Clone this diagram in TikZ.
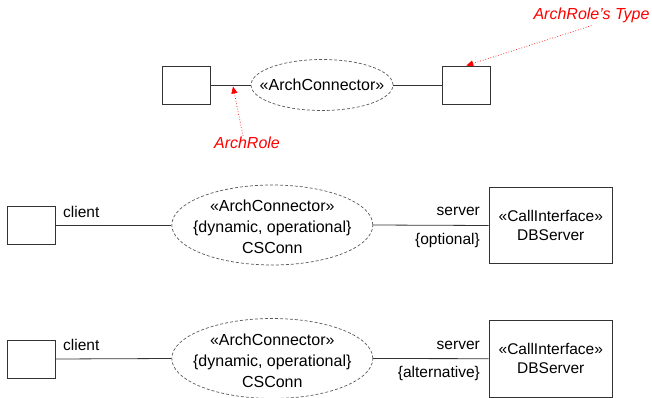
\documentclass[tikz,border=0pt]{standalone}
\usepackage{fontspec}
\setmainfont{Liberation Sans}
\usetikzlibrary{shapes.geometric,arrows.meta}
\tikzset{
  boxst/.style={draw=black!80,line width=0.9pt,inner sep=0pt,minimum width=48pt,minimum height=38pt},
  bigbox/.style={draw=black!80,line width=0.9pt,inner sep=0pt,minimum width=123.5pt,minimum height=76pt,align=center,font=\fontsize{15.5}{18.5}\selectfont},
  conn/.style={draw=black!65,dashed,dash pattern=on 3pt off 2pt,line width=0.7pt,ellipse,inner sep=0pt},
  conntext/.style={align=center,inner sep=0pt,font=\fontsize{16}{21}\selectfont},
  wire/.style={draw=black!80,line width=0.8pt},
  lbl/.style={font=\fontsize{15.5}{18}\selectfont,inner sep=0pt},
  redlbl/.style={font=\fontsize{16}{18}\selectfont\itshape,text=red,inner sep=0pt},
  redarrow/.style={draw=red,dotted,line width=0.7pt,-{Triangle[length=7pt,width=6pt]}}
}
\begin{document}
\begin{tikzpicture}[x=1pt,y=-1pt]
\useasboundingbox (0,0) rectangle (652,398);
% top row
\node[boxst] (tl) at (186,85) {};
\node[boxst] (tr) at (466.3,85) {};
\node[conn,minimum width=142pt,minimum height=51pt] (tc) at (322,85) {};
\node[conntext] (tct) at (tc.center) {«ArchConnector»};
\draw[wire] (tl.east) -- (tc.west);
\draw[wire] (tc.east) -- (tr.west);
\node[redlbl] (typelbl) at (591.5,15) {ArchRole’s Type};
\node[redlbl] (rolelbl) at (247,143) {ArchRole};
\coordinate (roleend) at (233,86.5);
\draw[redarrow] (typelbl.south) ++(0,3) -- (tr.north);
\draw[redarrow] (rolelbl.north) ++(-4,-1) -- (roleend);
% middle row
\node[boxst] (ml) at (31,225) {};
\node[conn,minimum width=201pt,minimum height=80pt] (mc) at (272.3,225) {};
\node[conntext] (mct) at (272.3,227) {«ArchConnector»\\{\{dynamic, operational\}}\\CSConn};
\node[bigbox] (mr) at (550.8,225.5) {«CallInterface»\\DBServer};
\draw[wire] (ml.east) -- (mc.west);
\draw[wire] (mc.east) -- (mr.west);
\node[lbl,anchor=west] (mcli) at (63,212) {client};
\node[lbl,anchor=east] (msrv) at (480,211.7) {server};
\node[lbl,anchor=east] (mopt) at (480,240) {\{optional\}};
% bottom row
\node[boxst] (bl) at (31,359) {};
\node[conn,minimum width=201pt,minimum height=80pt] (bc) at (272.3,358.5) {};
\node[conntext] (bct) at (272.3,360.5) {«ArchConnector»\\{\{dynamic, operational\}}\\CSConn};
\node[bigbox,minimum height=77pt] (br) at (550.8,358.7) {«CallInterface»\\DBServer};
\draw[wire] (bl.east) -- (bc.west);
\draw[wire] (bc.east) -- (br.west);
\node[lbl,anchor=west] (bcli) at (63,345) {client};
\node[lbl,anchor=east] (bsrv) at (480,345) {server};
\node[lbl,anchor=east] (balt) at (480,373.3) {\{alternative\}};
\end{tikzpicture}
\end{document}
